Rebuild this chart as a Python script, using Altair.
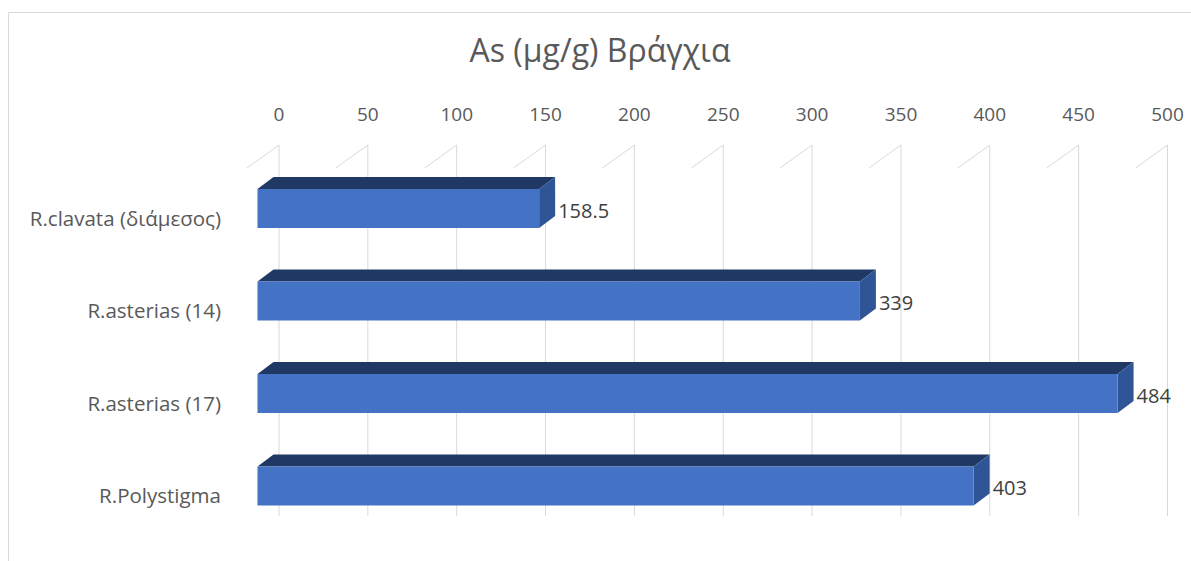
import altair as alt
import pandas as pd

# Chart data
categories = ["R.clavata (διάμεσος)", "R.asterias (14)", "R.asterias (17)", "R.Polystigma"]
values = [158.5, 339, 484, 403]
ticks = [0, 50, 100, 150, 200, 250, 300, 350, 400, 450, 500]
title_text = "As (μg/g) Βράγχια"

# Layout (pixels)
W, H = 1191, 561
X_ZERO_PX = 257.5      # where value 0 sits on the front plane
PX_PER_UNIT = 1.777
ROW0_PX = 208.5        # centre of the first bar
ROW_STEP_PX = 92.5
BAR_PX = 39
DEPTH_X_PX = 16        # 3-D depth of the bars
DEPTH_Y_PX = 12
GRID_SHIFT_PX = 21.5   # back wall sits behind the bars
SLANT_X_PX = 32

FONT = "Open Sans"
FRONT, TOP, SIDE = "#4472C4", "#203864", "#2F5597"

x_scale = alt.Scale(domain=[-X_ZERO_PX / PX_PER_UNIT, (W - X_ZERO_PX) / PX_PER_UNIT],
                    range=[0, W], nice=False, zero=False)
y_scale = alt.Scale(domain=[-ROW0_PX / ROW_STEP_PX, (H - ROW0_PX) / ROW_STEP_PX],
                    range=[0, H], nice=False, zero=False)

dx = DEPTH_X_PX / PX_PER_UNIT
dy = DEPTH_Y_PX / ROW_STEP_PX
half = BAR_PX / 2 / ROW_STEP_PX

bars = pd.DataFrame({"category": categories, "value": values, "row": list(range(len(values)))})
bars["top"] = bars["row"] - half
bars["bottom"] = bars["row"] + half
bars["start"] = 0.0
bars["label"] = [f"{v:g}" for v in values]

top_rows, side_rows = [], []
for r in bars.itertuples():
    t, b, v = r.top, r.bottom, r.value
    top_rows += [
        dict(category=r.category, x=0.0, y=t, y2=t),
        dict(category=r.category, x=dx, y=t - dy, y2=t),
        dict(category=r.category, x=v, y=t - dy, y2=t),
        dict(category=r.category, x=v + dx, y=t - dy, y2=t - dy),
    ]
    side_rows += [
        dict(category=r.category, y=t - dy, x=v + dx, x2=v + dx),
        dict(category=r.category, y=t, x=v, x2=v + dx),
        dict(category=r.category, y=b - dy, x=v, x2=v + dx),
        dict(category=r.category, y=b, x=v, x2=v),
    ]
top_faces = pd.DataFrame(top_rows)
side_faces = pd.DataFrame(side_rows)

grid = pd.DataFrame({"tick": ticks})
grid["gx"] = grid["tick"] + GRID_SHIFT_PX / PX_PER_UNIT
grid["sx"] = grid["gx"] - SLANT_X_PX / PX_PER_UNIT

one = pd.DataFrame({"t": [title_text]})

border = alt.Chart(one).mark_rect(fillOpacity=0, stroke="#D9D9D9", strokeWidth=1).encode(
    x=alt.value(8.5), x2=alt.value(W + 20), y=alt.value(12.5), y2=alt.value(H + 20)
)

grid_v = alt.Chart(grid).mark_rule(color="#D9D9D9", strokeWidth=1).encode(
    x=alt.X("gx:Q", scale=x_scale, axis=None),
    y=alt.value(145), y2=alt.value(516)
)
grid_s = alt.Chart(grid).mark_rule(color="#D9D9D9", strokeWidth=1).encode(
    x=alt.X("sx:Q", scale=x_scale, axis=None), x2="gx:Q",
    y=alt.value(168), y2=alt.value(145)
)
tick_labels = alt.Chart(grid).mark_text(font=FONT, fontSize=19, color="#595959",
                                        align="center", baseline="middle").encode(
    x=alt.X("gx:Q", scale=x_scale, axis=None),
    y=alt.value(115),
    text="tick:Q"
)

top_layer = alt.Chart(top_faces).mark_area(orient="vertical", color=TOP, interpolate="linear").encode(
    x=alt.X("x:Q", scale=x_scale, axis=None),
    y=alt.Y("y:Q", scale=y_scale, axis=None, stack=None),
    y2="y2:Q",
    detail="category:N"
)
side_layer = alt.Chart(side_faces).mark_area(orient="horizontal", color=SIDE, interpolate="linear").encode(
    y=alt.Y("y:Q", scale=y_scale, axis=None),
    x=alt.X("x:Q", scale=x_scale, axis=None, stack=None),
    x2="x2:Q",
    detail="category:N"
)
front_layer = alt.Chart(bars).mark_rect(color=FRONT).encode(
    x=alt.X("start:Q", scale=x_scale, axis=None), x2="value:Q",
    y=alt.Y("top:Q", scale=y_scale, axis=None), y2="bottom:Q"
)

value_labels = alt.Chart(bars).mark_text(font=FONT, fontSize=20, color="#404040",
                                         align="left", baseline="middle",
                                         dx=DEPTH_X_PX + 3, dy=3).encode(
    x=alt.X("value:Q", scale=x_scale, axis=None),
    y=alt.Y("row:Q", scale=y_scale, axis=None),
    text="label:N"
)
cat_labels = alt.Chart(bars).mark_text(font=FONT, fontSize=20.5, color="#595959",
                                       align="right", baseline="middle", dy=11).encode(
    x=alt.value(221),
    y=alt.Y("row:Q", scale=y_scale, axis=None),
    text="category:N"
)
title = alt.Chart(one).mark_text(font=FONT, fontSize=32, color="#595959",
                                 align="center", baseline="alphabetic").encode(
    x=alt.value(600), y=alt.value(62), text="t:N"
)

chart = alt.layer(
    border, grid_v, grid_s, tick_labels, top_layer, side_layer, front_layer,
    value_labels, cat_labels, title
).properties(
    width=W, height=H, padding=0, autosize=alt.AutoSizeParams(type="none"),
    background="white"
).configure_view(stroke=None)

chart.save("out.html", embed_options={"renderer": "svg", "actions": False})
